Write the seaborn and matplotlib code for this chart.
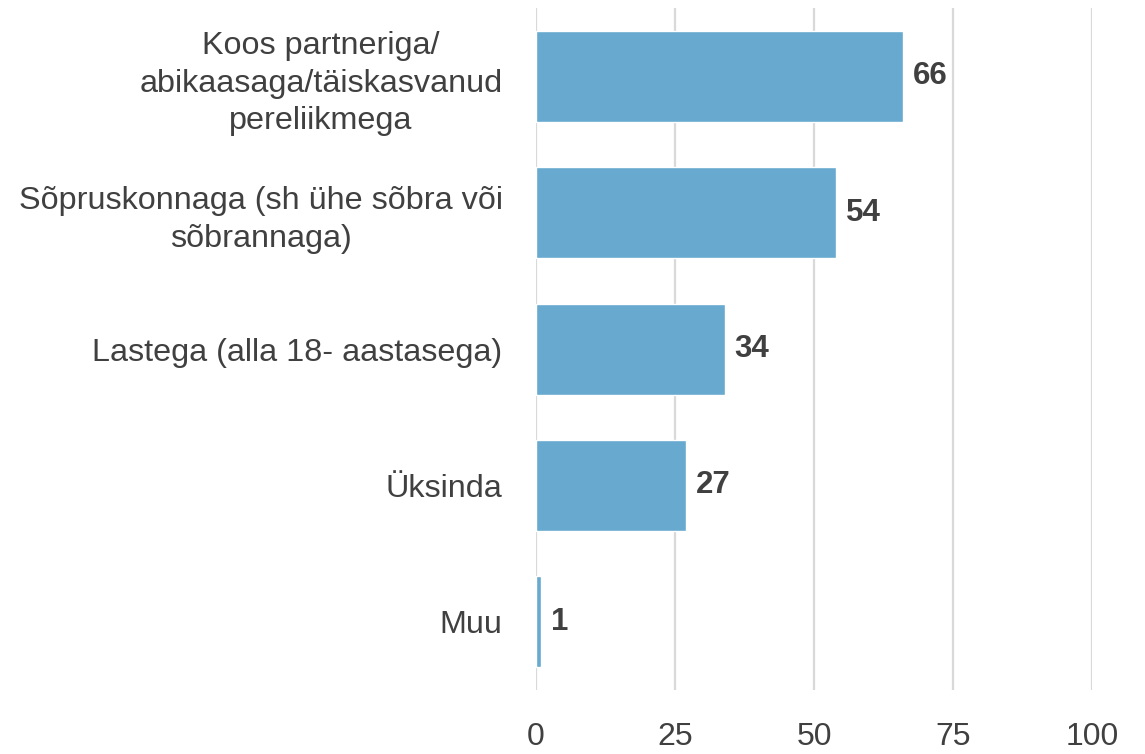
import matplotlib
matplotlib.use("Agg")
import matplotlib.pyplot as plt
import seaborn as sns
import pandas as pd

sns.set_theme(style="white")
plt.rcParams['font.family'] = ['Liberation Sans', 'DejaVu Sans']

categories = [
    "Koos partneriga/\nabikaasaga/täiskasvanud\npereliikmega",
    "Sõpruskonnaga (sh ühe sõbra või\nsõbrannaga)",
    "Lastega (alla 18- aastasega)",
    "Üksinda",
    "Muu",
]
values = [66, 54, 34, 27, 1]
xticks = [0, 25, 50, 75, 100]

text_color = "#404040"
bar_color = "#67A9CF"

df = pd.DataFrame({"cat": categories, "val": values})

fig = plt.figure(figsize=(11.45, 7.54), dpi=100)
ax = fig.add_axes([0.468, 0.085, 0.486, 0.904])

sns.barplot(data=df, x="val", y="cat", color=bar_color, saturation=1,
            width=0.667, ax=ax, zorder=3)

for i, v in enumerate(values):
    ax.text(v + 1.7, i, str(v), va="center", ha="left", fontsize=22.5,
            fontweight="bold", color=text_color, zorder=4)

ax.set_xlim(0, 100)
ax.set_ylim(4.5, -0.5)
ax.set_xticks(xticks)
ax.xaxis.grid(True, color="#D9D9D9", linewidth=1.6, zorder=0)
ax.yaxis.grid(False)
for s in ax.spines.values():
    s.set_visible(False)
ax.tick_params(axis="x", length=0, pad=23, labelsize=23, labelcolor=text_color)
ax.tick_params(axis="y", length=0, pad=24, labelsize=23.3, labelcolor=text_color)
for lbl in ax.get_yticklabels():
    lbl.set_multialignment("center")
    lbl.set_linespacing(1.32)
ax.set_xlabel("")
ax.set_ylabel("")

fig.savefig("out.png", dpi=100)
